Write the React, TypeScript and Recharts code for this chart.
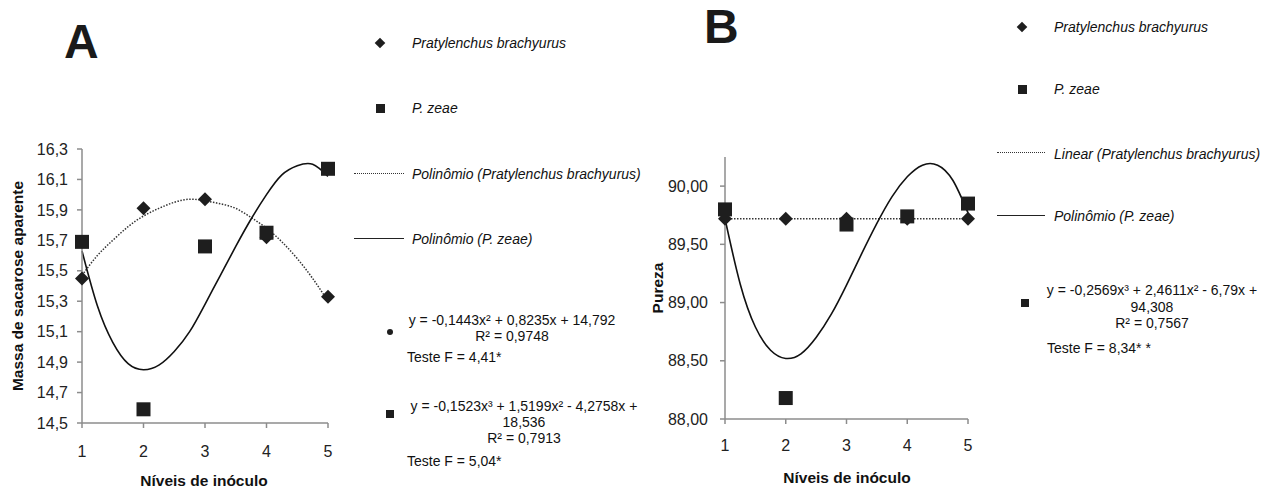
import React from "react";
import { ComposedChart, Line, Scatter, XAxis, YAxis } from "recharts";

// inoculum levels and measured means
const levels = [1, 2, 3, 4, 5];
const massaBrachyurus = [15.45, 15.91, 15.97, 15.72, 15.33];
const massaZeae = [15.69, 14.59, 15.66, 15.75, 16.17];
const purezaBrachyurus = [89.72, 89.72, 89.72, 89.72, 89.72];
const purezaZeae = [89.8, 88.18, 89.67, 89.74, 89.85];

// trend lines
const trendX = [1, 1.25, 1.5, 1.75, 2, 2.25, 2.5, 2.75, 3, 3.25, 3.5, 3.75, 4, 4.25, 4.5, 4.75, 5];
const massaBrachyurusTrend = [15.47, 15.6, 15.7, 15.79, 15.86, 15.91, 15.95, 15.97, 15.96, 15.94, 15.91, 15.85, 15.78, 15.69, 15.58, 15.45, 15.3];
const massaZeaeTrend = [15.63, 15.27, 15.03, 14.89, 14.85, 14.88, 14.97, 15.1, 15.28, 15.47, 15.66, 15.84, 16.0, 16.13, 16.19, 16.2, 16.12];
const purezaBrachyurusTrend = [89.72, 89.72, 89.72, 89.72, 89.72];
const purezaZeaeTrend = [89.72, 89.16, 88.79, 88.59, 88.52, 88.56, 88.7, 88.9, 89.15, 89.42, 89.68, 89.91, 90.08, 90.18, 90.18, 90.05, 89.77];

const massaTicks = [14.5, 14.7, 14.9, 15.1, 15.3, 15.5, 15.7, 15.9, 16.1, 16.3];
const purezaTicks = [88, 88.5, 89, 89.5, 90];

const FONT = '"Liberation Sans", Arial, sans-serif';
const INK = "#1e1e1e";
const AXIS = "#8c8c8c";

const toPoints = (xs: number[], ys: number[]) => xs.map((x, i) => ({ x, y: ys[i] }));

const Diamond = (props: any) => {
  const { cx, cy } = props;
  const r = 7;
  return <path d={`M${cx},${cy - r}L${cx + r},${cy}L${cx},${cy + r}L${cx - r},${cy}Z`} fill={INK} />;
};

const Square = (props: any) => {
  const { cx, cy } = props;
  const h = 7;
  return <rect x={cx - h} y={cy - h} width={h * 2} height={h * 2} fill={INK} />;
};

const tickStyle = { fontSize: 16, fill: "#222", fontFamily: FONT };

const abs = (x: number, y: number, extra: React.CSSProperties = {}): React.CSSProperties => ({
  position: "absolute",
  left: x,
  top: y,
  fontFamily: FONT,
  whiteSpace: "nowrap",
  color: "#111",
  ...extra,
});

const LeftText = ({ x, y, size = 14, italic = false, children }: any) => (
  <div style={abs(x, y, { fontSize: size, fontStyle: italic ? "italic" : "normal", transform: "translateY(-50%)" })}>
    {children}
  </div>
);

const CenterText = ({ x, y, size = 14, children }: any) => (
  <div style={abs(x, y, { fontSize: size, transform: "translate(-50%, -50%)" })}>{children}</div>
);

const Mark = ({ x, y, kind, size }: any) => (
  <div
    style={{
      position: "absolute",
      left: x - size / 2,
      top: y - size / 2,
      width: size,
      height: size,
      background: INK,
      transform: kind === "diamond" ? "rotate(45deg) scale(0.75)" : undefined,
      borderRadius: kind === "dot" ? "50%" : 0,
    }}
  />
);

const Stroke = ({ x1, x2, y, dotted }: any) => (
  <div
    style={{
      position: "absolute",
      left: x1,
      top: y - 1,
      width: x2 - x1,
      height: 0,
      borderTop: dotted ? "1.5px dotted #333" : "1.5px solid #222",
    }}
  />
);

const App = () => {
  return (
    <div style={{ position: "absolute", left: 0, top: 0, width: 1268, height: 494, background: "#fff", overflow: "hidden" }}>
      {/* Panel A */}
      <div style={{ position: "absolute", left: 0, top: 0 }}>
        <ComposedChart width={345} height={494} margin={{ top: 149, right: 17, bottom: 41, left: 0 }}>
          <XAxis
            type="number"
            dataKey="x"
            domain={[1, 5]}
            ticks={levels}
            height={30}
            stroke={AXIS}
            strokeWidth={1.5}
            tickSize={5}
            tickMargin={18}
            tick={tickStyle}
          />
          <YAxis
            type="number"
            dataKey="y"
            domain={[14.5, 16.3]}
            ticks={massaTicks}
            width={82}
            stroke={AXIS}
            strokeWidth={1.5}
            tickSize={5}
            tickMargin={9}
            tick={tickStyle}
            tickFormatter={(v: number) => v.toFixed(1).replace(".", ",")}
          />
          <Line
            data={toPoints(trendX, massaBrachyurusTrend)}
            dataKey="y"
            type="natural"
            stroke="#333"
            strokeWidth={1.5}
            strokeDasharray="1.5 1.5"
            dot={false}
            activeDot={false}
            isAnimationActive={false}
          />
          <Line
            data={toPoints(trendX, massaZeaeTrend)}
            dataKey="y"
            type="natural"
            stroke="#111"
            strokeWidth={1.6}
            dot={false}
            activeDot={false}
            isAnimationActive={false}
          />
          <Scatter data={toPoints(levels, massaBrachyurus)} dataKey="y" shape={Diamond} isAnimationActive={false} />
          <Scatter data={toPoints(levels, massaZeae)} dataKey="y" shape={Square} isAnimationActive={false} />
        </ComposedChart>
      </div>

      {/* Panel B */}
      <div style={{ position: "absolute", left: 640, top: 0 }}>
        <ComposedChart width={340} height={494} margin={{ top: 157, right: 12, bottom: 45, left: 0 }}>
          <XAxis
            type="number"
            dataKey="x"
            domain={[1, 5]}
            ticks={levels}
            height={30}
            stroke={AXIS}
            strokeWidth={1.5}
            tickSize={5}
            tickMargin={16}
            tick={tickStyle}
          />
          <YAxis
            type="number"
            dataKey="y"
            domain={[88, 90.25]}
            ticks={purezaTicks}
            width={85}
            stroke={AXIS}
            strokeWidth={1.5}
            tickSize={5}
            tickMargin={12}
            tick={tickStyle}
            tickFormatter={(v: number) => v.toFixed(2).replace(".", ",")}
          />
          <Line
            data={toPoints(levels, purezaBrachyurusTrend)}
            dataKey="y"
            type="linear"
            stroke="#333"
            strokeWidth={1.5}
            strokeDasharray="1.5 1.5"
            dot={false}
            activeDot={false}
            isAnimationActive={false}
          />
          <Line
            data={toPoints(trendX, purezaZeaeTrend)}
            dataKey="y"
            type="natural"
            stroke="#111"
            strokeWidth={1.6}
            dot={false}
            activeDot={false}
            isAnimationActive={false}
          />
          <Scatter data={toPoints(levels, purezaBrachyurus)} dataKey="y" shape={Diamond} isAnimationActive={false} />
          <Scatter data={toPoints(levels, purezaZeae)} dataKey="y" shape={Square} isAnimationActive={false} />
        </ComposedChart>
      </div>

      {/* panel letters */}
      <div style={abs(64, 16, { fontSize: 48, fontWeight: "bold", color: "#1a1a1a", lineHeight: "52px" })}>A</div>
      <div style={abs(704, 1, { fontSize: 48, fontWeight: "bold", color: "#1a1a1a", lineHeight: "52px" })}>B</div>

      {/* axis titles */}
      <div style={abs(18, 286, { fontSize: 15.5, fontWeight: "bold", transform: "translate(-50%, -50%) rotate(-90deg)" })}>
        Massa de sacarose aparente
      </div>
      <CenterText x={204} y={481} size={15.5}>
        <b>Níveis de inóculo</b>
      </CenterText>
      <div style={abs(658, 288, { fontSize: 15.5, fontWeight: "bold", transform: "translate(-50%, -50%) rotate(-90deg)" })}>
        Pureza
      </div>
      <CenterText x={847} y={478} size={15.5}>
        <b>Níveis de inóculo</b>
      </CenterText>

      {/* legend A */}
      <Mark x={380} y={43} kind="diamond" size={10} />
      <LeftText x={412} y={43} italic>Pratylenchus brachyurus</LeftText>
      <Mark x={380} y={108} kind="square" size={9} />
      <LeftText x={412} y={108} italic>P. zeae</LeftText>
      <Stroke x1={354} x2={404} y={174} dotted />
      <LeftText x={412} y={174} italic>Polinômio (Pratylenchus brachyurus)</LeftText>
      <Stroke x1={354} x2={404} y={239} />
      <LeftText x={412} y={239} italic>Polinômio (P. zeae)</LeftText>

      <Mark x={390} y={332} kind="dot" size={6} />
      <CenterText x={512} y={320}>y = -0,1443x² + 0,8235x + 14,792</CenterText>
      <CenterText x={512} y={336}>R² = 0,9748</CenterText>
      <LeftText x={407} y={357}>Teste F = 4,41*</LeftText>

      <Mark x={390} y={414} kind="square" size={8} />
      <CenterText x={524} y={406}>y = -0,1523x³ + 1,5199x² - 4,2758x +</CenterText>
      <CenterText x={524} y={422}>18,536</CenterText>
      <CenterText x={524} y={438}>R² = 0,7913</CenterText>
      <LeftText x={407} y={461}>Teste F = 5,04*</LeftText>

      {/* legend B */}
      <Mark x={1022} y={27} kind="diamond" size={10} />
      <LeftText x={1054} y={27} italic>Pratylenchus brachyurus</LeftText>
      <Mark x={1022} y={89} kind="square" size={9} />
      <LeftText x={1054} y={89} italic>P. zeae</LeftText>
      <Stroke x1={997} x2={1045} y={153} dotted />
      <LeftText x={1054} y={154} italic>Linear (Pratylenchus brachyurus)</LeftText>
      <Stroke x1={997} x2={1045} y={216} />
      <LeftText x={1054} y={216} italic>Polinômio (P. zeae)</LeftText>

      <Mark x={1025} y={303} kind="square" size={8} />
      <CenterText x={1152} y={290}>y = -0,2569x³ + 2,4611x² - 6,79x +</CenterText>
      <CenterText x={1152} y={307}>94,308</CenterText>
      <CenterText x={1152} y={323}>R² = 0,7567</CenterText>
      <LeftText x={1047} y={348}>Teste F = 8,34* *</LeftText>
    </div>
  );
};

export default App;
